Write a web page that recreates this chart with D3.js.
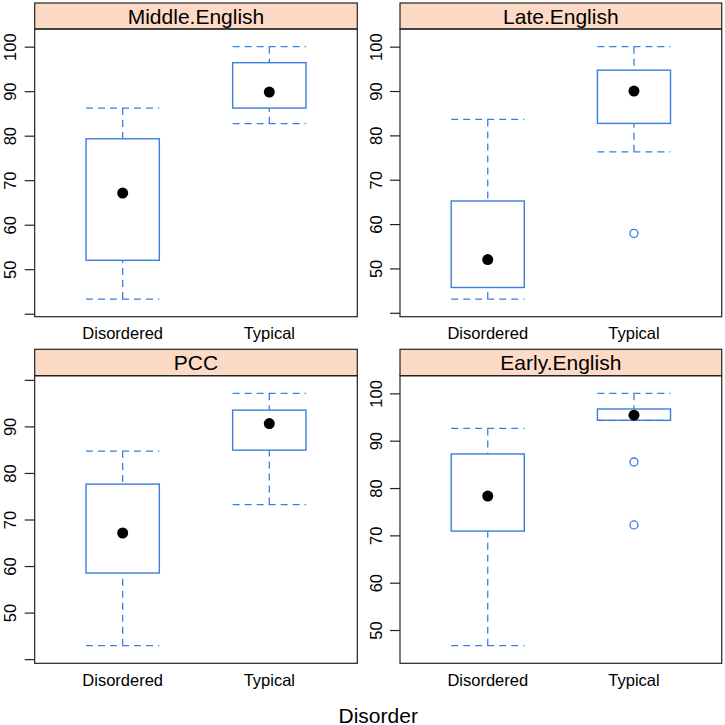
<!DOCTYPE html>
<html>
<head>
<meta charset="utf-8">
<script src="https://cdn.jsdelivr.net/npm/d3@7"></script>
<style>
  body { margin: 0; background: #fff; }
  svg { display: block; font-family: "Liberation Sans", Arial, Helvetica, sans-serif; }
</style>
</head>
<body>
<div id="chart"></div>
<script>
// panels in layout order: top-left, top-right, bottom-left, bottom-right
const panelNames = ['Middle.English', 'Late.English', 'PCC', 'Early.English'];
const groups = ['Disordered', 'Typical'];

// five-number summaries: [lower whisker, Q1, median, Q3, upper whisker]
const middleEnglish = [[43.3, 52.0, 67.1, 79.3, 86.2], [82.7, 86.2, 89.8, 96.4, 100]];
const lateEnglish = [[43.1, 45.7, 52.0, 65.2, 83.6], [76.3, 82.7, 90.0, 94.7, 100]];
const pcc = [[42.9, 58.5, 67.1, 77.6, 84.7], [73.2, 84.9, 90.6, 93.5, 97.1]];
const earlyEnglish = [[46.7, 70.9, 78.3, 87.2, 92.6], [94.3, 94.3, 95.4, 96.7, 100]];

// outliers per panel, per group
const middleEnglishOut = [[], []];
const lateEnglishOut = [[], [57.9]];
const pccOut = [[], []];
const earlyEnglishOut = [[], [85.5, 72.2]];

const yTicks = [40, 50, 60, 70, 80, 90, 100];
const xLabel = 'Disorder';

const stats = [middleEnglish, lateEnglish, pcc, earlyEnglish];
const outliers = [middleEnglishOut, lateEnglishOut, pccOut, earlyEnglishOut];

const W = 725, H = 725;
const BLUE = '#3a7fdd';
const STRIP = '#fddac6';

const cols = [[34.7, 357.3], [400, 721.7]];
const rows = [{ strip: 3, top: 29, bottom: 316.7 }, { strip: 349.3, top: 375.7, bottom: 663.3 }];

const svg = d3.select('#chart')
    .append('svg')
    .attr('width', W)
    .attr('height', H);

panelNames.forEach((name, i) => {
    const [x0, x1] = cols[i % 2];
    const row = rows[Math.floor(i / 2)];

    const vals = stats[i].flat().concat(outliers[i].flat());
    const lo = d3.min(vals), hi = d3.max(vals);
    const pad = (hi - lo) * 0.07;

    const x = d3.scalePoint()
        .domain(groups)
        .range([x0, x1])
        .padding(0.6);

    const y = d3.scaleLinear()
        .domain([lo - pad, hi + pad])
        .range([row.bottom, row.top]);

    const g = svg.append('g');

    // strip
    g.append('rect')
        .attr('x', x0).attr('y', row.strip)
        .attr('width', x1 - x0).attr('height', row.top - row.strip)
        .attr('fill', STRIP)
        .attr('stroke', '#222').attr('stroke-width', 1.2);

    g.append('text')
        .attr('x', (x0 + x1) / 2)
        .attr('y', (row.strip + row.top) / 2 + 7.5)
        .attr('text-anchor', 'middle')
        .attr('font-size', 21)
        .attr('fill', '#000')
        .text(name);

    // y axis
    const ticks = yTicks.filter(t => t >= y.domain()[0] && t <= y.domain()[1]);
    const axis = g.append('g')
        .attr('transform', `translate(${x0},0)`)
        .call(d3.axisLeft(y)
            .tickValues(ticks)
            .tickSize(10)
            .tickFormat(t => (y(t) - row.top > 9 && row.bottom - y(t) > 9) ? t : ''));
    axis.select('.domain').remove();
    axis.selectAll('line').attr('stroke', '#222').attr('stroke-width', 1.2);
    axis.selectAll('text')
        .attr('x', null).attr('dy', null)
        .attr('transform', 'translate(-18.5,0) rotate(-90)')
        .attr('text-anchor', 'middle')
        .attr('font-size', 16.5)
        .attr('font-family', '"Liberation Sans", Arial, sans-serif')
        .attr('fill', '#000');

    // x labels
    groups.forEach(grp => {
        g.append('text')
            .attr('x', x(grp))
            .attr('y', row.bottom + 22.5)
            .attr('text-anchor', 'middle')
            .attr('font-size', 16.5)
            .text(grp);
    });

    // boxes
    const bw = x.step() * 0.5;
    groups.forEach((grp, j) => {
        const s = stats[i][j];
        const cx = x(grp);

        // whiskers (dashed), drawn from the ends toward the box
        [[s[0], s[1]], [s[4], s[3]]].forEach(([end, edge]) => {
            g.append('line')
                .attr('x1', cx).attr('x2', cx)
                .attr('y1', y(end)).attr('y2', y(edge))
                .attr('stroke', BLUE).attr('stroke-width', 1.3)
                .attr('stroke-dasharray', '7,5');
            g.append('line')
                .attr('x1', cx - bw / 2).attr('x2', cx + bw / 2)
                .attr('y1', y(end)).attr('y2', y(end))
                .attr('stroke', BLUE).attr('stroke-width', 1.3)
                .attr('stroke-dasharray', '7,5');
        });

        g.append('rect')
            .attr('x', cx - bw / 2)
            .attr('y', y(s[3]))
            .attr('width', bw)
            .attr('height', y(s[1]) - y(s[3]))
            .attr('fill', 'none')
            .attr('stroke', BLUE).attr('stroke-width', 1.4);

        g.append('circle')
            .attr('cx', cx).attr('cy', y(s[2]))
            .attr('r', 5.5)
            .attr('fill', '#000');

        outliers[i][j].forEach(v => {
            g.append('circle')
                .attr('cx', cx).attr('cy', y(v))
                .attr('r', 4)
                .attr('fill', 'none')
                .attr('stroke', BLUE).attr('stroke-width', 1.3);
        });
    });

    // panel border
    g.append('rect')
        .attr('x', x0).attr('y', row.top)
        .attr('width', x1 - x0).attr('height', row.bottom - row.top)
        .attr('fill', 'none')
        .attr('stroke', '#222').attr('stroke-width', 1.2);
});

svg.append('text')
    .attr('x', (cols[0][0] + cols[1][1]) / 2)
    .attr('y', 722.5)
    .attr('text-anchor', 'middle')
    .attr('font-size', 21)
    .text(xLabel);
</script>
</body>
</html>
